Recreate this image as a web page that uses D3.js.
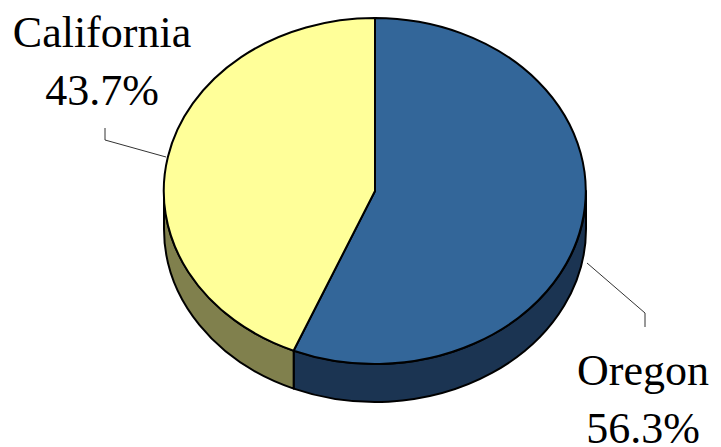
<!DOCTYPE html>
<html>
<head>
<meta charset="utf-8">
<script src="https://cdn.jsdelivr.net/npm/d3@7"></script>
<style>
  body { margin: 0; background: #fff; }
  .canvas svg text, .canvas svg tspan {
    font-family: "Liberation Serif", "Times New Roman", Tinos, "DejaVu Serif", serif !important;
  }
</style>
</head>
<body>
<div class="canvas"></div>
<script>
const categories = ["Oregon", "California"];
const values = [56.3, 43.7];
const labels = ["56.3%", "43.7%"];

const width = 721;
const height = 447;

// pie geometry
const cx = 375, cy = 191, rx = 211, ry = 173, depth = 38;

const topColor = d3.scaleOrdinal().domain(categories).range(["#336699", "#ffff99"]);
const sideColor = d3.scaleOrdinal().domain(categories).range(["#1b3452", "#80804d"]);

const svg = d3
  .select(".canvas")
  .append("svg")
  .attr("width", width)
  .attr("height", height);

const pie = d3.pie().sort(null).value((d) => d.value);
const slices = pie(categories.map((c, i) => ({ name: c, value: values[i], label: labels[i] })));

const px = (a) => cx + rx * Math.sin(a);
const py = (a, dy = 0) => cy - ry * Math.cos(a) + dy;

// side walls (only front half is visible)
const sidePath = (d) => {
  const a0 = Math.max(d.startAngle, Math.PI / 2);
  const a1 = Math.min(d.endAngle, Math.PI * 1.5);
  if (a1 <= a0) return null;
  const large = a1 - a0 > Math.PI ? 1 : 0;
  return `M${px(a0)},${py(a0)}` +
    `A${rx},${ry} 0 ${large} 1 ${px(a1)},${py(a1)}` +
    `L${px(a1)},${py(a1, depth)}` +
    `A${rx},${ry} 0 ${large} 0 ${px(a0)},${py(a0, depth)}Z`;
};

svg
  .append("g")
  .selectAll("path")
  .data(slices)
  .enter()
  .append("path")
  .attr("d", sidePath)
  .attr("fill", (d) => sideColor(d.data.name))
  .attr("stroke", "#000")
  .attr("stroke-width", 2)
  .attr("stroke-linejoin", "round");

// top faces: unit arc scaled into an ellipse
const arc = d3.arc().innerRadius(0).outerRadius(1);

svg
  .append("g")
  .attr("transform", `translate(${cx}, ${cy}) scale(${rx}, ${ry})`)
  .selectAll("path")
  .data(slices)
  .enter()
  .append("path")
  .attr("d", arc)
  .attr("fill", (d) => topColor(d.data.name))
  .attr("stroke", "#000")
  .attr("stroke-width", 2)
  .attr("stroke-linejoin", "round")
  .attr("vector-effect", "non-scaling-stroke");

// leader lines
const leaders = [
  [[587, 263], [645, 313], [645, 327]],
  [[166, 157], [105, 140], [105, 128]],
];
svg
  .append("g")
  .selectAll("path")
  .data(leaders)
  .enter()
  .append("path")
  .attr("d", d3.line())
  .attr("fill", "none")
  .attr("stroke", "#333")
  .attr("stroke-width", 1);

// labels
const labelPos = [
  { x: 643, y: 385 },
  { x: 102, y: 47 },
];
const labelText = svg
  .append("g")
  .selectAll("text")
  .data(slices)
  .enter()
  .append("text")
  .attr("text-anchor", "middle")
  .attr("font-family", "Liberation Serif")
  .attr("font-size", 44)
  .attr("fill", "#000");

labelText
  .append("tspan")
  .attr("x", (d, i) => labelPos[i].x)
  .attr("y", (d, i) => labelPos[i].y)
  .text((d) => d.data.name);

labelText
  .append("tspan")
  .attr("x", (d, i) => labelPos[i].x)
  .attr("y", (d, i) => labelPos[i].y + 58)
  .text((d) => d.data.label);
</script>
</body>
</html>
